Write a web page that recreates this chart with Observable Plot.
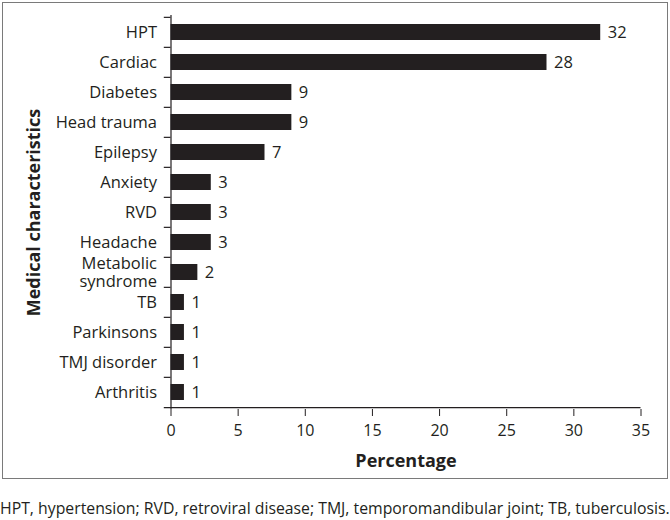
<!DOCTYPE html>
<html><head><meta charset="utf-8">
<script src="https://cdn.jsdelivr.net/npm/d3@7"></script>
<script src="https://cdn.jsdelivr.net/npm/@observablehq/plot@0.6"></script>
<style>
body{margin:0;background:#fff;font-family:"Open Sans",sans-serif;}
#box{position:absolute;left:2px;top:2px;width:664px;height:475px;border:1px solid #7a7a7a;}
#box svg{display:block;}
#cap{position:absolute;left:0;top:497px;font-size:15.8px;color:#231f20;white-space:nowrap;}
</style></head><body>
<div id="box"></div><div id="cap"></div>
<script>
const categories = ["HPT","Cardiac","Diabetes","Head trauma","Epilepsy","Anxiety","RVD","Headache","Metabolic syndrome","TB","Parkinsons","TMJ disorder","Arthritis"];
const values = [32,28,9,9,7,3,3,3,2,1,1,1,1];
const xTicks = [0,5,10,15,20,25,30,35];
const xLabel = "Percentage";
const yLabel = "Medical characteristics";
const caption = "HPT, hypertension; RVD, retroviral disease; TMJ, temporomandibular joint; TB, tuberculosis.";

const ink = "#231f20";
const n = categories.length;
const W = 664, H = 474, mt = 12, mb = 68, ml = 167.5, mr = 26.5;
const step = (H - mt - mb) / n;
const data = categories.map((c, i) => ({c, v: values[i]}));

const chart = Plot.plot({
  width: W, height: H,
  marginTop: mt, marginBottom: mb, marginLeft: ml, marginRight: mr,
  style: {fontFamily: '"Open Sans", sans-serif', fontSize: "16px", color: ink, background: "transparent", overflow: "visible"},
  x: {domain: [0, 35]},
  y: {domain: categories, paddingInner: 0.47, paddingOuter: 0.235},
  marks: [
    Plot.barX(data, {x: "v", y: "c", fill: ink}),
    Plot.text(data, {x: "v", y: "c", text: d => String(d.v), textAnchor: "start", dx: 7, fill: ink, fontSize: 16.5}),
    Plot.ruleX([0], {stroke: ink, strokeWidth: 1.2}),
    Plot.ruleY(categories, {y: d => d, x1: -0.5, x2: 0, dy: -step / 2, stroke: ink, strokeWidth: 1.2}),
    Plot.ruleY([categories[n - 1]], {y: d => d, x1: -0.5, x2: 35, dy: step / 2, stroke: ink, strokeWidth: 1.2}),
    Plot.axisX({ticks: xTicks, tickSize: 7, tickPadding: 8, label: null, stroke: ink, fill: ink, fontSize: 16}),
    Plot.axisY({tickSize: 0, tickPadding: 14, tickFormat: d => d.replace(" syndrome", "\nsyndrome"), lineHeight: 1.08, label: null, fill: ink, fontSize: 16.5}),
    Plot.text([xLabel], {frameAnchor: "bottom", text: d => d, dy: 57, fontSize: 18, fontWeight: "bold", fill: ink}),
    Plot.text([yLabel], {frameAnchor: "left", text: d => d, rotate: -90, textAnchor: "middle", dx: -137, fontSize: 18, fontWeight: "bold", fill: ink})
  ]
});
document.getElementById("box").appendChild(chart);
document.getElementById("cap").textContent = caption;
</script>
</body></html>
